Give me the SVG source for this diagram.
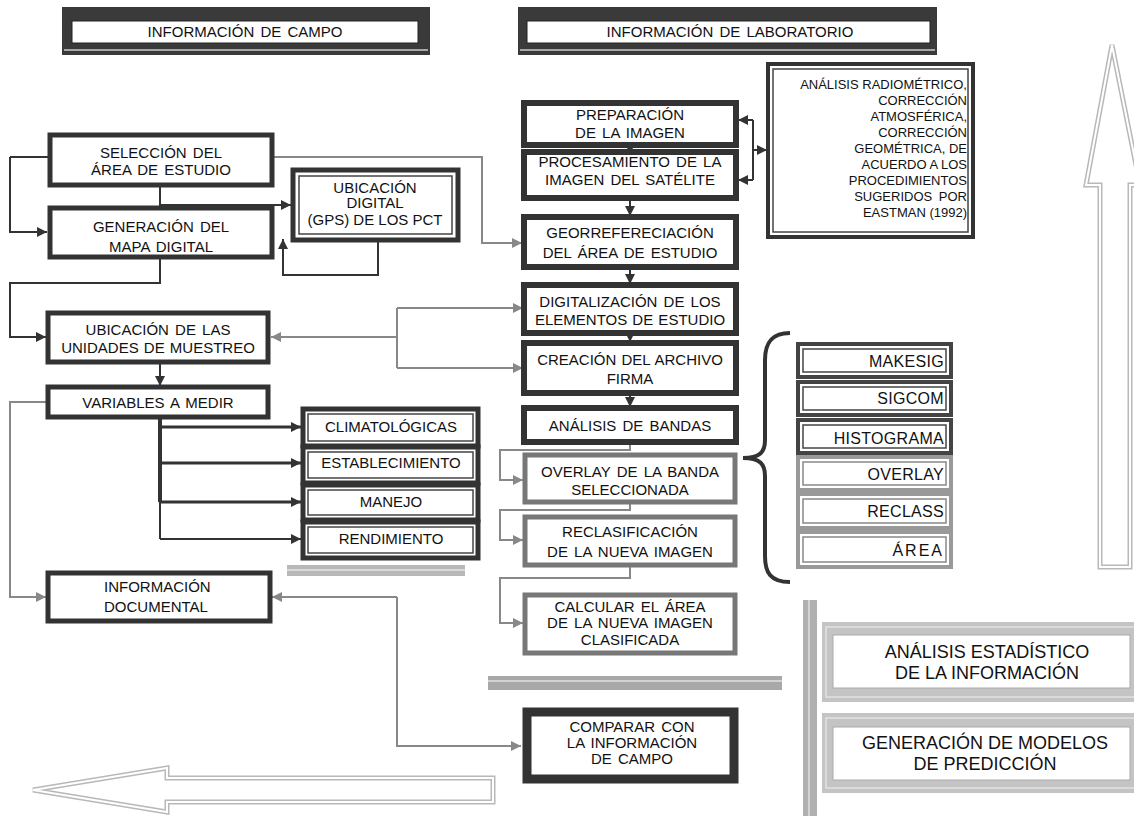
<svg xmlns="http://www.w3.org/2000/svg" width="1134" height="816" viewBox="0 0 1134 816">
<style>
text{font-family:"Liberation Sans",Arial,sans-serif;fill:#111;}
.t15{font-size:15px;text-anchor:middle;word-spacing:2px;}
.t13{font-size:13px;text-anchor:end;}
.t16{font-size:16px;text-anchor:end;letter-spacing:0.3px;}
.t18{font-size:18px;text-anchor:middle;}
.thick{fill:#fff;stroke:#333;stroke-width:5;}
.mid{fill:#fff;stroke:#333;stroke-width:6;}
.grayb{fill:#fff;stroke:#777;stroke-width:5;}
.inner{fill:none;stroke:#444;stroke-width:1.5;}
.ln{fill:none;stroke:#333;stroke-width:2;}
.lg{fill:none;stroke:#888;stroke-width:2;}
.hol{fill:#fff;stroke:#b8b8b8;stroke-width:5;stroke-linejoin:miter;}
.hol2{fill:none;stroke:#fff;stroke-width:2;stroke-linejoin:miter;}
</style>
<defs>
<marker id="ad" markerUnits="userSpaceOnUse" markerWidth="10" markerHeight="10" refX="10" refY="5" orient="auto"><path d="M0,0 L10,5 L0,10 z" fill="#333"/></marker>
<marker id="ag" markerUnits="userSpaceOnUse" markerWidth="10" markerHeight="10" refX="10" refY="5" orient="auto"><path d="M0,0 L10,5 L0,10 z" fill="#888"/></marker>
</defs>
<rect width="1134" height="816" fill="#fff"/>

<!-- decorative arrows and bars -->
<g id="decor">
<polygon class="hol" points="1112,45 1140,185 1130,185 1130,567 1100,567 1100,185 1086,185"/>
<polygon class="hol2" points="1112,45 1140,185 1130,185 1130,567 1100,567 1100,185 1086,185"/>
<polygon class="hol" points="33,790 167,768 167,778 493,778 493,802 167,802 167,812"/>
<polygon class="hol2" points="33,790 167,768 167,778 493,778 493,802 167,802 167,812"/>
<rect x="287" y="565" width="178" height="11" fill="#b8b8b8"/>
<line x1="287" y1="570" x2="465" y2="570" stroke="#e6e6e6" stroke-width="1.5"/>
<rect x="488" y="676" width="294" height="14" fill="#a8a8a8"/>
<line x1="488" y1="681" x2="782" y2="681" stroke="#e0e0e0" stroke-width="1.5"/>
<rect x="803" y="600" width="14" height="216" fill="#b0b0b0"/>
<line x1="809" y1="600" x2="809" y2="816" stroke="#e0e0e0" stroke-width="1.5"/>
<path d="M790,333 C770,333 765,345 765,360 L765,440 C765,452 760,458 743,458 C760,458 765,464 765,476 L765,556 C765,572 770,582 790,582" fill="none" stroke="#333" stroke-width="4"/>
</g>

<!-- headers -->
<g id="hdr-campo">
<rect x="62" y="7" width="368" height="48" fill="#3a3a3a"/>
<line x1="64" y1="50" x2="428" y2="50" stroke="#ccc" stroke-width="1.5"/>
<rect x="72" y="21" width="346" height="22" fill="#fff" stroke="#222"/>
<text class="t15" x="245" y="37">INFORMACIÓN DE CAMPO</text>
</g>
<g id="hdr-lab">
<rect x="518" y="7" width="419" height="48" fill="#3a3a3a"/>
<line x1="520" y1="50" x2="935" y2="50" stroke="#ccc" stroke-width="1.5"/>
<rect x="527" y="21" width="403" height="22" fill="#fff" stroke="#222"/>
<text class="t15" x="730" y="37">INFORMACIÓN DE LABORATORIO</text>
</g>

<!-- connectors -->
<g id="connectors">
<path class="ln" d="M10,157 H50"/>
<path class="ln" d="M10,157 V232 H47" marker-end="url(#ad)"/>
<path class="ln" d="M160,185 V205 H291" marker-end="url(#ad)"/>
<path class="ln" d="M378,240 V275 H283 V239" marker-end="url(#ad)"/>
<path class="ln" d="M160,257 V283 H10 V337 H46" marker-end="url(#ad)"/>
<path class="ln" d="M160,362 V386" marker-end="url(#ad)"/>
<path fill="none" stroke="#333" stroke-width="4" d="M160,417 V502"/>
<path class="ln" d="M160,502 V539"/>
<path fill="none" stroke="#333" stroke-width="3" d="M160,427 H301" marker-end="url(#ad)"/>
<path fill="none" stroke="#333" stroke-width="3" d="M160,463 H301" marker-end="url(#ad)"/>
<path fill="none" stroke="#333" stroke-width="3" d="M160,502 H301" marker-end="url(#ad)"/>
<path class="ln" d="M160,539 H301" marker-end="url(#ad)"/>
<path class="ln" d="M630,145 V154" marker-end="url(#ad)"/>
<path class="ln" d="M630,198 V216" marker-end="url(#ad)"/>
<path class="ln" d="M630,267 V284" marker-end="url(#ad)"/>
<path class="ln" d="M630,333 V342" marker-end="url(#ad)"/>
<path class="ln" d="M630,393 V407" marker-end="url(#ad)"/>
<path class="ln" d="M753,120 V180"/>
<path class="ln" d="M753,120 H738" marker-end="url(#ad)"/>
<path class="ln" d="M753,180 H738" marker-end="url(#ad)"/>
<path class="ln" d="M753,150 H767" marker-end="url(#ad)"/>
<path class="lg" d="M272,157 H482 V243 H522" marker-end="url(#ag)"/>
<path class="lg" d="M397,308 H523" marker-end="url(#ag)"/>
<path class="lg" d="M397,368 H523" marker-end="url(#ag)"/>
<path class="lg" d="M397,308 V368"/>
<path class="lg" d="M397,337 H271" marker-end="url(#ag)"/>
<path class="lg" d="M48,402 H10 V597 H46" marker-end="url(#ag)"/>
<path class="lg" d="M397,597 H272" marker-end="url(#ag)"/>
<path class="lg" d="M397,597 V746 H521" marker-end="url(#ag)"/>
<path class="lg" d="M630,442 V450 H500 V480 H523" marker-end="url(#ag)"/>
<path class="lg" d="M630,502 V510 H500 V540 H523" marker-end="url(#ag)"/>
<path class="lg" d="M630,565 V578 H500 V623 H523" marker-end="url(#ag)"/>
</g>

<!-- left column -->
<g id="n-seleccion"><rect class="thick" x="50" y="135" width="222" height="50"/>
<text class="t15" x="161" y="158">SELECCIÓN DEL</text><text class="t15" x="161" y="175">ÁREA DE ESTUDIO</text></g>
<g id="n-generacion"><rect class="thick" x="50" y="208" width="222" height="49"/>
<text class="t15" x="161" y="232">GENERACIÓN DEL</text><text class="t15" x="161" y="252">MAPA DIGITAL</text></g>
<g id="n-gps"><rect class="thick" x="293" y="170" width="165" height="70"/><rect class="inner" x="299" y="176" width="153" height="58"/>
<text class="t15" x="375" y="193" style="word-spacing:0">UBICACIÓN</text><text class="t15" x="375" y="208">DIGITAL</text><text class="t15" x="375" y="225" style="word-spacing:0">(GPS) DE LOS PCT</text></g>
<g id="n-unidades"><rect class="thick" x="48" y="313" width="220" height="49"/>
<text class="t15" x="158" y="335">UBICACIÓN DE LAS</text><text class="t15" x="158" y="353" style="word-spacing:1px">UNIDADES DE MUESTREO</text></g>
<g id="n-variables"><rect class="thick" x="48" y="387" width="220" height="30"/>
<text class="t15" x="158" y="408">VARIABLES A MEDIR</text></g>
<g id="n-clima"><rect class="thick" x="303" y="409" width="175" height="37"/><rect class="inner" x="308" y="414" width="165" height="27"/>
<text class="t15" x="391" y="432">CLIMATOLÓGICAS</text></g>
<g id="n-estab"><rect class="thick" x="303" y="447" width="175" height="36"/><rect class="inner" x="308" y="452" width="165" height="26"/>
<text class="t15" x="391" y="468">ESTABLECIMIENTO</text></g>
<g id="n-manejo"><rect class="thick" x="303" y="485" width="175" height="35"/><rect class="inner" x="308" y="490" width="165" height="25"/>
<text class="t15" x="391" y="507">MANEJO</text></g>
<g id="n-rend"><rect class="thick" x="303" y="522" width="175" height="36"/><rect class="inner" x="308" y="527" width="165" height="26"/>
<text class="t15" x="391" y="544">RENDIMIENTO</text></g>
<g id="n-documental"><rect class="thick" x="48" y="573" width="222" height="48"/>
<text x="104" y="592" style="font-size:15px">INFORMACIÓN</text><text x="104" y="612" style="font-size:15px">DOCUMENTAL</text></g>

<!-- middle column -->
<g id="n-prep"><rect class="mid" x="524" y="103" width="212" height="42"/>
<text class="t15" x="630" y="120">PREPARACIÓN</text><text class="t15" x="630" y="138">DE LA IMAGEN</text></g>
<g id="n-proc"><rect class="mid" x="524" y="152" width="212" height="46"/>
<text class="t15" x="630" y="167">PROCESAMIENTO DE LA</text><text class="t15" x="630" y="185">IMAGEN DEL SATÉLITE</text></g>
<g id="n-geo"><rect class="mid" x="524" y="217" width="212" height="50"/>
<text class="t15" x="630" y="238">GEORREFERECIACIÓN</text><text class="t15" x="630" y="258">DEL ÁREA DE ESTUDIO</text></g>
<g id="n-digit"><rect class="mid" x="524" y="285" width="212" height="48"/>
<text class="t15" x="630" y="307">DIGITALIZACIÓN DE LOS</text><text class="t15" x="630" y="325" style="word-spacing:1px">ELEMENTOS DE ESTUDIO</text></g>
<g id="n-creacion"><rect class="mid" x="524" y="343" width="212" height="50"/>
<text class="t15" x="630" y="365" style="word-spacing:1px">CREACIÓN DEL ARCHIVO</text><text class="t15" x="630" y="384">FIRMA</text></g>
<g id="n-bandas"><rect class="mid" x="524" y="408" width="212" height="34"/>
<text class="t15" x="630" y="431">ANÁLISIS DE BANDAS</text></g>
<g id="n-overlay"><rect class="grayb" x="525" y="455" width="210" height="47"/>
<text class="t15" x="630" y="477">OVERLAY DE LA BANDA</text><text class="t15" x="630" y="495">SELECCIONADA</text></g>
<g id="n-reclas"><rect class="grayb" x="525" y="517" width="210" height="48"/>
<text class="t15" x="630" y="537">RECLASIFICACIÓN</text><text class="t15" x="630" y="557">DE LA NUEVA IMAGEN</text></g>
<g id="n-calcular"><rect class="grayb" x="525" y="595" width="210" height="58"/>
<text class="t15" x="630" y="612">CALCULAR EL ÁREA</text><text class="t15" x="630" y="628">DE LA NUEVA IMAGEN</text><text class="t15" x="630" y="645">CLASIFICADA</text></g>
<g id="n-comparar"><rect x="527" y="712" width="207" height="67" fill="#fff" stroke="#333" stroke-width="9"/>
<text class="t15" x="632" y="732">COMPARAR CON</text><text class="t15" x="632" y="748">LA INFORMACIÓN</text><text class="t15" x="632" y="764">DE CAMPO</text></g>

<!-- annotation -->
<g id="n-nota"><rect x="768" y="64" width="205" height="173" fill="#fff" stroke="#333" stroke-width="4"/><rect class="inner" x="773" y="69" width="195" height="163"/>
<text class="t13" x="967" y="89">ANÁLISIS RADIOMÉTRICO,</text>
<text class="t13" x="967" y="105">CORRECCIÓN</text>
<text class="t13" x="967" y="121">ATMOSFÉRICA,</text>
<text class="t13" x="967" y="137">CORRECCIÓN</text>
<text class="t13" x="967" y="153">GEOMÉTRICA, DE</text>
<text class="t13" x="967" y="169">ACUERDO A LOS</text>
<text class="t13" x="967" y="185">PROCEDIMIENTOS</text>
<text class="t13" x="967" y="201" style="word-spacing:3px">SUGERIDOS POR</text>
<text class="t13" x="967" y="217">EASTMAN (1992)</text></g>

<!-- right list -->
<g id="n-makesig"><rect x="798" y="344" width="153" height="33" fill="#fff" stroke="#444" stroke-width="4"/><rect class="inner" x="803" y="349" width="143" height="23"/><text class="t16" x="944" y="367">MAKESIG</text></g>
<g id="n-sigcom"><rect x="798" y="382" width="153" height="33" fill="#fff" stroke="#444" stroke-width="4"/><rect class="inner" x="803" y="387" width="143" height="23"/><text class="t16" x="944" y="404">SIGCOM</text></g>
<g id="n-histograma"><rect x="798" y="420" width="153" height="33" fill="#fff" stroke="#444" stroke-width="4"/><rect class="inner" x="803" y="425" width="143" height="23"/><text class="t16" x="944" y="444">HISTOGRAMA</text></g>
<g id="n-overlay2"><rect x="798" y="457" width="153" height="33" fill="#fff" stroke="#999" stroke-width="4"/><rect x="803" y="462" width="143" height="23" fill="none" stroke="#888" stroke-width="1.5"/><text class="t16" x="944" y="480">OVERLAY</text></g>
<g id="n-reclass"><rect x="798" y="494" width="153" height="34" fill="#fff" stroke="#999" stroke-width="4"/><rect x="803" y="499" width="143" height="24" fill="none" stroke="#888" stroke-width="1.5"/><text class="t16" x="944" y="517">RECLASS</text></g>
<g id="n-area"><rect x="798" y="532" width="153" height="35" fill="#fff" stroke="#999" stroke-width="4"/><rect x="803" y="537" width="143" height="25" fill="none" stroke="#888" stroke-width="1.5"/><text class="t16" x="944" y="556" style="letter-spacing:2px">ÁREA</text></g>

<!-- bottom right -->
<g id="n-estadistico"><rect x="822" y="622" width="330" height="80" fill="#c4c4c4"/><rect x="826" y="627" width="320" height="70" fill="none" stroke="#e2e2e2" stroke-width="1.5"/><rect x="833" y="635" width="297" height="53" fill="#fff" stroke="#aaa"/>
<text class="t18" x="987" y="658">ANÁLISIS ESTADÍSTICO</text><text class="t18" x="987" y="679">DE LA INFORMACIÓN</text></g>
<g id="n-modelos"><rect x="822" y="713" width="330" height="80" fill="#c4c4c4"/><rect x="826" y="718" width="320" height="70" fill="none" stroke="#e2e2e2" stroke-width="1.5"/><rect x="833" y="727" width="297" height="53" fill="#fff" stroke="#aaa"/>
<text class="t18" x="985" y="749">GENERACIÓN DE MODELOS</text><text class="t18" x="985" y="770">DE PREDICCIÓN</text></g>
</svg>
